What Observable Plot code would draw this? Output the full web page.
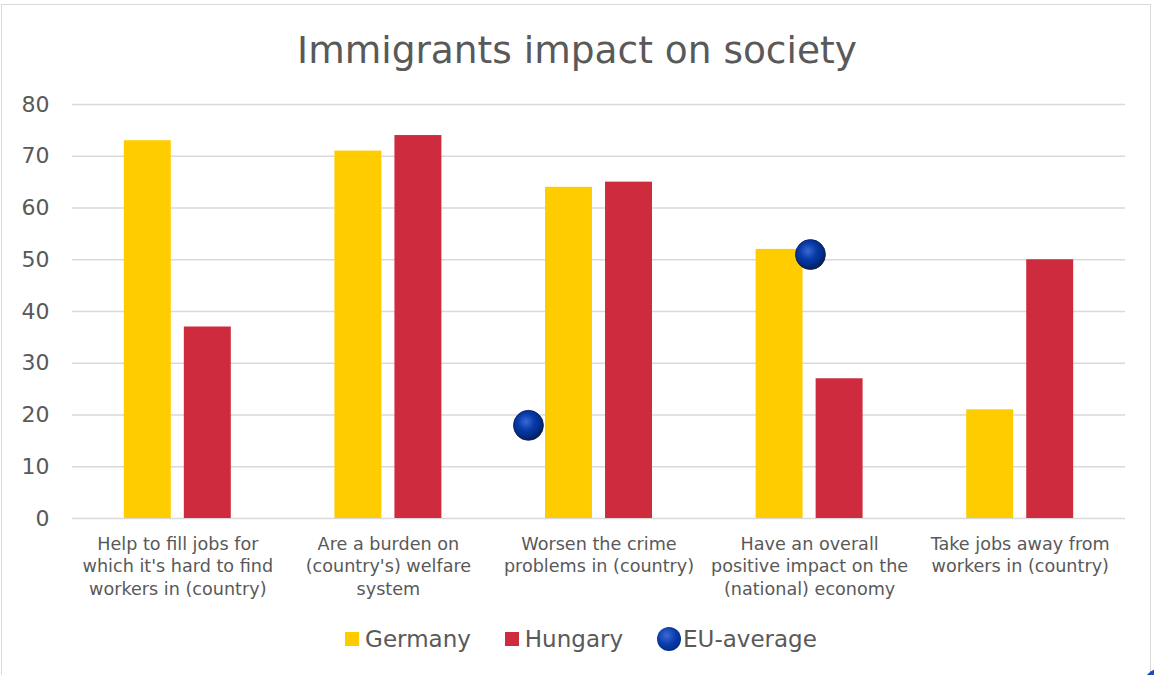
<!DOCTYPE html>
<html>
<head>
<meta charset="utf-8">
<script src="https://cdn.jsdelivr.net/npm/d3@7"></script>
<script src="https://cdn.jsdelivr.net/npm/@observablehq/plot@0.6"></script>
<style>
  html, body { margin: 0; padding: 0; background: #fff; width: 1154px; height: 675px; overflow: hidden; position: relative; font-family: "DejaVu Sans", Verdana, sans-serif; }
  #frame { position: absolute; left: 1px; top: 4px; width: 1150px; height: 720px; border: 1.5px solid #d9d9d9; box-sizing: border-box; }
  #title { position: absolute; left: 0; top: 32px; width: 1154px; text-align: center; font-size: 37.5px; line-height: 37px; color: #595959; }
  #chart { position: absolute; left: 0; top: 88px; }
  #legend { position: absolute; left: 0; top: 620px; width: 1154px; height: 38px; display: flex; justify-content: center; align-items: center; font-size: 23px; line-height: 38px; color: #595959; padding-left: 8px; box-sizing: border-box; }
  .item { display: flex; align-items: center; margin: 0 17px; }
  .sq { width: 14px; height: 14px; margin-right: 6px; }
  .ball { width: 24px; height: 24px; border-radius: 50%; margin-right: 2px;
    background: radial-gradient(circle at 40% 35%, #3a6ad8 0%, #0a3aa8 45%, #00308f 70%, #0b1d55 100%); }
  #corner { position: absolute; left: 1144px; top: 669px; width: 30px; height: 30px; border-radius: 50%;
    background: radial-gradient(circle at 40% 35%, #3a6ad8 0%, #0a3aa8 45%, #00308f 70%, #0b1d55 100%); }
</style>
</head>
<body>
<div id="frame"></div>
<div id="title">Immigrants impact on society</div>
<div id="chart"></div>
<div id="legend"></div>
<div id="corner"></div>
<script>
const categories = [
  "Help to fill jobs for\nwhich it's hard to find\nworkers in (country)",
  "Are a burden on\n(country's) welfare\nsystem",
  "Worsen the crime\nproblems in (country)",
  "Have an overall\npositive impact on the\n(national) economy",
  "Take jobs away from\nworkers in (country)"
];
const germany = [73, 71, 64, 52, 21];
const hungary = [37, 74, 65, 27, 50];
const euAverage = [null, null, 18, 51, null];
const yTicks = [0, 10, 20, 30, 40, 50, 60, 70, 80];
const seriesNames = ["Germany", "Hungary", "EU-average"];
const colors = { Germany: "#FFCC00", Hungary: "#CE2B3E" };

// layout within a category (fraction of category width)
const barW = 0.223, gap = 0.062;
const euShift = [0, 0, -0.335, 0.004, 0]; // horizontal placement of EU markers as in the source

const bars = [];
categories.forEach((c, i) => {
  bars.push({ series: "Germany", x1: i + 0.5 - gap / 2 - barW, x2: i + 0.5 - gap / 2, value: germany[i] });
  bars.push({ series: "Hungary", x1: i + 0.5 + gap / 2, x2: i + 0.5 + gap / 2 + barW, value: hungary[i] });
});
const eu = euAverage.map((v, i) => ({ x: i + 0.5 + euShift[i], value: v })).filter(d => d.value != null);
const labels = categories.map((c, i) => ({ x: i + 0.5, text: c }));

const svg = Plot.plot({
  width: 1154,
  height: 522,
  marginLeft: 72,
  marginRight: 29,
  marginTop: 16,
  marginBottom: 92,
  style: { fontFamily: "DejaVu Sans, Verdana, sans-serif", background: "transparent", overflow: "visible" },
  x: { domain: [0, 5], axis: null },
  y: { domain: [0, 80] },
  marks: [
    Plot.gridY(yTicks, { stroke: "#d9d9d9", strokeOpacity: 1, strokeWidth: 1.4 }),
    Plot.axisY({ ticks: yTicks, tickSize: 0, tickPadding: 23, fontSize: 22, color: "#595959", label: null }),
    Plot.rectY(bars, { x1: "x1", x2: "x2", y: "value", fill: d => colors[d.series] }),
    Plot.dot(eu, { x: "x", y: "value", r: 15, fill: "url(#euGrad)", stroke: "#0b1d55", strokeWidth: 0.8 }),
    Plot.text(labels, { x: "x", y: () => 0, text: "text", lineAnchor: "top", dy: 15, fontSize: 17.6, lineHeight: 1.28, fill: "#595959" })
  ]
});

const defs = d3.select(svg).insert("defs", ":first-child");
const g = defs.append("radialGradient").attr("id", "euGrad").attr("cx", "42%").attr("cy", "38%").attr("r", "62%");
g.append("stop").attr("offset", "0%").attr("stop-color", "#3a6ad8");
g.append("stop").attr("offset", "45%").attr("stop-color", "#0a3aa8");
g.append("stop").attr("offset", "72%").attr("stop-color", "#00308f");
g.append("stop").attr("offset", "100%").attr("stop-color", "#0b1d55");

document.getElementById("chart").appendChild(svg);

const legend = document.getElementById("legend");
seriesNames.forEach(name => {
  const item = document.createElement("div");
  item.className = "item";
  const sw = document.createElement("div");
  if (colors[name]) { sw.className = "sq"; sw.style.background = colors[name]; }
  else { sw.className = "ball"; }
  const t = document.createElement("span");
  t.textContent = name;
  item.appendChild(sw);
  item.appendChild(t);
  legend.appendChild(item);
});
</script>
</body>
</html>
